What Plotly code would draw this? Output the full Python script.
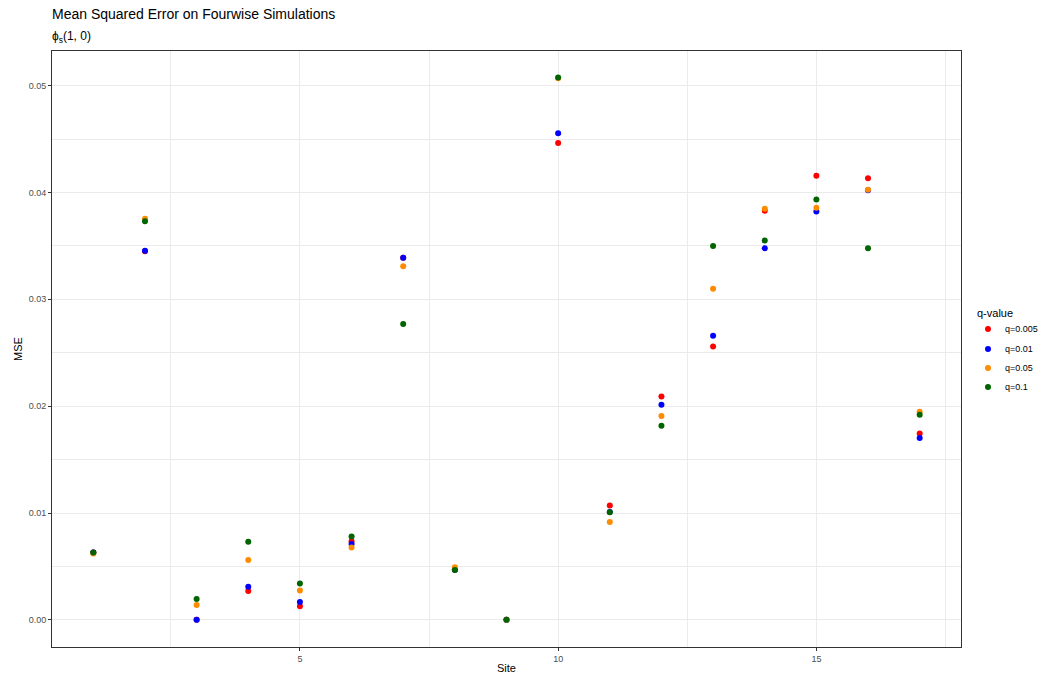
import plotly.graph_objects as go

# Mean squared error per site for each q-value threshold
sites = list(range(1, 18))
q_labels = ["q=0.005", "q=0.01", "q=0.05", "q=0.1"]
q_colors = ["#FF0000", "#0000FF", "#FF8C00", "#006400"]

mse_q005 = [0.0063, 0.0345, 0.0000, 0.0027, 0.00128, 0.00735, 0.0339, 0.0047, 0.0000,
            0.04464, 0.0107, 0.0209, 0.02558, 0.0383, 0.04156, 0.04134, 0.01745]
mse_q01 = [0.0063, 0.03455, 0.0000, 0.0031, 0.00168, 0.0071, 0.0339, 0.0047, 0.0000,
           0.04555, 0.0101, 0.02013, 0.02658, 0.03477, 0.03822, 0.0402, 0.01701]
mse_q05 = [0.0062, 0.03755, 0.0014, 0.0056, 0.00275, 0.00677, 0.0331, 0.00493, 0.0000,
           0.0507, 0.00916, 0.01907, 0.0310, 0.03848, 0.03857, 0.04025, 0.01948]
mse_q1 = [0.0063, 0.0373, 0.00196, 0.0073, 0.0034, 0.0078, 0.0277, 0.00467, 0.0000,
          0.05075, 0.01007, 0.01817, 0.0350, 0.03551, 0.03935, 0.03477, 0.0192]

series = [mse_q005, mse_q01, mse_q05, mse_q1]

fig = go.Figure()
for label, color, vals in zip(q_labels, q_colors, series):
    fig.add_trace(go.Scatter(
        x=sites, y=vals, mode="markers", name=label, showlegend=False,
        marker=dict(color=color, size=6, line=dict(width=0)),
    ))

FONT = "Liberation Sans, Arial, sans-serif"
grid = "#EBEBEB"
axis_common = dict(
    automargin=False,
    showgrid=True, gridcolor=grid, gridwidth=1,
    zeroline=False, showline=True, linecolor="#333333", linewidth=1, mirror=True,
    ticks="outside", ticklen=3, tickcolor="#333333", tickwidth=1,
    tickfont=dict(family=FONT, size=9, color="#4D4D4D"),
)

fig.update_xaxes(
    range=[0.2, 17.8], tickmode="array", tickvals=[5, 10, 15], ticktext=["5", "10", "15"],
    minor=dict(tickmode="array", tickvals=[2.5, 7.5, 12.5, 17.5], showgrid=True,
               gridcolor=grid, gridwidth=0.5, ticks=""),
    **axis_common,
)
fig.update_yaxes(
    range=[-0.00254, 0.05324], tickmode="array",
    tickvals=[0, 0.01, 0.02, 0.03, 0.04, 0.05],
    ticktext=["0.00", "0.01", "0.02", "0.03", "0.04", "0.05"],
    minor=dict(tickmode="array", tickvals=[0.005, 0.015, 0.025, 0.035, 0.045], showgrid=True,
               gridcolor=grid, gridwidth=0.5, ticks=""),
    **axis_common,
)

# Plot area in pixels, used to place titles and the hand-built legend in paper space
L, R, T, B = 52, 961, 51, 647
W_PX, H_PX = 1048, 679


def px_x(p):
    return (p - L) / (R - L)


def px_y(p):
    return (B - p) / (B - T)


annotations = [
    dict(text="Mean Squared Error on Fourwise Simulations", xref="paper", yref="paper",
         x=0, y=1, xanchor="left", yanchor="bottom", yshift=27, xshift=-2, showarrow=False,
         font=dict(family=FONT, size=14, color="#000000")),
    dict(text="ϕ<sub>s</sub>(1, 0)", xref="paper", yref="paper",
         x=0, y=1, xanchor="left", yanchor="bottom", yshift=4, xshift=-2, showarrow=False,
         font=dict(family=FONT, size=12, color="#000000")),
    dict(text="Site", xref="paper", yref="paper", x=0.5, y=px_y(668),
         xanchor="center", yanchor="middle", showarrow=False,
         font=dict(family=FONT, size=11, color="#000000")),
    dict(text="MSE", xref="paper", yref="paper", x=px_x(18), y=0.5, textangle=-90,
         xanchor="center", yanchor="middle", showarrow=False,
         font=dict(family=FONT, size=11, color="#000000")),
    dict(text="q-value", xref="paper", yref="paper", x=px_x(975), y=px_y(313),
         xanchor="left", yanchor="middle", showarrow=False,
         font=dict(family=FONT, size=11, color="#000000")),
]
shapes = []
legend_rows = [329, 349, 368, 387]
for label, color, row in zip(q_labels, q_colors, legend_rows):
    shapes.append(dict(
        type="circle", xref="paper", yref="paper", xsizemode="pixel", ysizemode="pixel",
        xanchor=px_x(988), yanchor=px_y(row), x0=-3, x1=3, y0=-3, y1=3,
        fillcolor=color, line=dict(width=0),
    ))
    annotations.append(dict(
        text=label, xref="paper", yref="paper", x=px_x(1003), y=px_y(row),
        xanchor="left", yanchor="middle", showarrow=False,
        font=dict(family=FONT, size=9, color="#000000"),
    ))

fig.update_layout(
    width=W_PX, height=H_PX,
    margin=dict(l=L, r=W_PX - R, t=T, b=H_PX - B),
    plot_bgcolor="white", paper_bgcolor="white",
    font=dict(family=FONT, color="#000000"),
    showlegend=False,
    annotations=annotations,
    shapes=shapes,
)

fig.write_html("out.html")
